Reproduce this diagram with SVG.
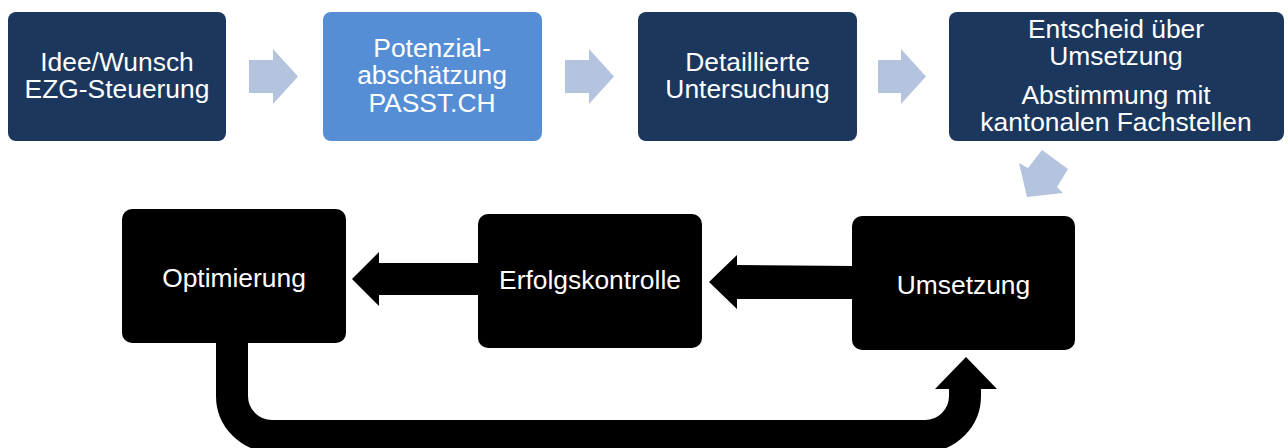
<svg xmlns="http://www.w3.org/2000/svg" width="1288" height="448" viewBox="0 0 1288 448">
<style>
.dark{fill:#1B375E}
.light{fill:#558ED5}
.blk{fill:#000}
text{font-family:"Liberation Sans",Arial,sans-serif;font-size:26.4px;fill:#fff;text-anchor:middle}
.ga{fill:#B4C4DF}
</style>
<rect width="1288" height="448" fill="#fff"/>
<g id="connectors">
<polygon class="ga" points="249,60 273,60 273,49 298,76.5 273,104 273,93 249,93"/>
<polygon class="ga" points="565,60 589,60 589,49 614,76.5 589,104 589,93 565,93"/>
<polygon class="ga" points="878,60 901,60 901,49 926,76.5 901,104 901,93 878,93"/>
<polygon class="ga" points="1042,150 1068,169 1057,187 1063,193 1027,197 1019,163 1028,168"/>
<polygon class="blk" points="480,263 379,263 379,252 352,279 379,306 379,295 480,295"/>
<polygon class="blk" points="854,266 737,265 737,255 709,282 737,309 737,299 854,299"/>
<path d="M232,340 V396 A40,40 0 0 0 272,436 H925 A40,40 0 0 0 965,396 V388" fill="none" stroke="#000" stroke-width="32"/>
<polygon class="blk" points="935,389 966,357 997,389"/>
</g>
<g id="n1"><rect class="dark" x="8" y="12" width="218" height="129" rx="8"/>
<text x="117" y="71">Idee/Wunsch</text><text x="117" y="98">EZG-Steuerung</text></g>
<g id="n2"><rect class="light" x="323" y="12" width="219" height="129" rx="8"/>
<text x="432" y="57">Potenzial-</text><text x="432" y="84">abschätzung</text><text x="432" y="112">PASST.CH</text></g>
<g id="n3"><rect class="dark" x="638" y="12" width="219" height="129" rx="8"/>
<text x="747.5" y="71">Detaillierte</text><text x="747.5" y="98">Untersuchung</text></g>
<g id="n4"><rect class="dark" x="949" y="12" width="335" height="129" rx="8"/>
<text x="1116" y="38">Entscheid über</text><text x="1116" y="65">Umsetzung</text>
<text x="1116" y="104">Abstimmung mit</text><text x="1116" y="131">kantonalen Fachstellen</text></g>
<g id="n5"><rect class="blk" x="122" y="209" width="224" height="134" rx="10"/>
<text x="234" y="287">Optimierung</text></g>
<g id="n6"><rect class="blk" x="478" y="214" width="224" height="134" rx="10"/>
<text x="590" y="289">Erfolgskontrolle</text></g>
<g id="n7"><rect class="blk" x="852" y="216" width="223" height="134" rx="10"/>
<text x="963.5" y="294">Umsetzung</text></g>
</svg>
